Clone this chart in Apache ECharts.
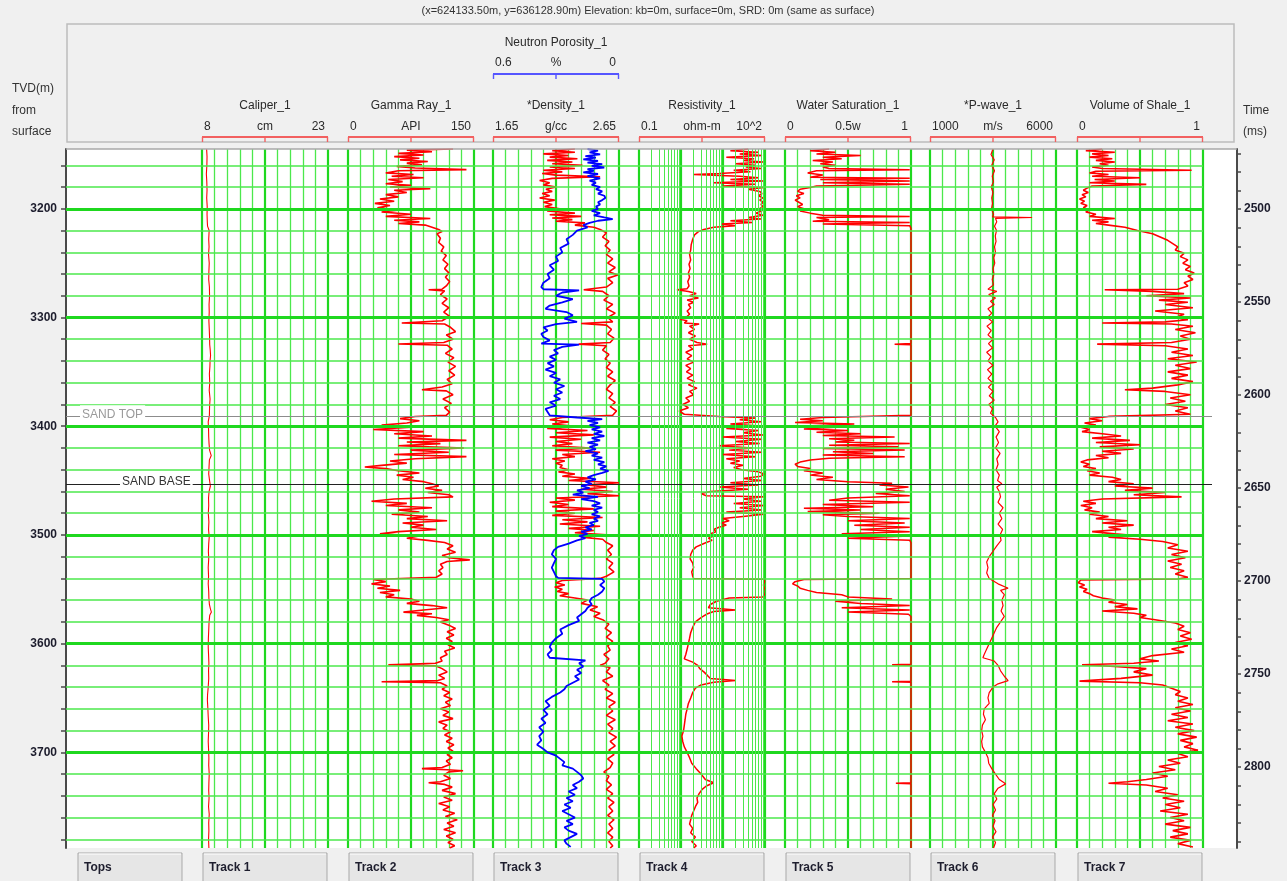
<!DOCTYPE html>
<html><head><meta charset="utf-8">
<script src="https://cdn.jsdelivr.net/npm/echarts@6/dist/echarts.min.js"></script>
<style>html,body{margin:0;padding:0;background:#f0f0f0;}#c{width:1287px;height:881px;}</style>
</head><body><div id="c"></div>
<script>
// ---------------- DATA ----------------
const titleText = '(x=624133.50m, y=636128.90m) Elevation: kb=0m, surface=0m, SRD: 0m (same as surface)';
const depthMin = 3145, depthMax = 3788;
const timeMin = 2467.7, timeMax = 2843.5;
const depthLabels = [3200, 3300, 3400, 3500, 3600, 3700];
const depthMinorLines = [3160, 3180, 3220, 3240, 3260, 3280, 3320, 3340, 3360, 3380, 3420, 3440, 3460, 3480, 3520, 3540, 3560, 3580, 3620, 3640, 3660, 3680, 3720, 3740, 3760, 3780];
const depthTicks = [3160, 3180, 3200, 3220, 3240, 3260, 3280, 3300, 3320, 3340, 3360, 3380, 3400, 3420, 3440, 3460, 3480, 3500, 3520, 3540, 3560, 3580, 3600, 3620, 3640, 3660, 3680, 3700, 3720, 3740, 3760, 3780];
const timeLabels = [2500, 2550, 2600, 2650, 2700, 2750, 2800];
const timeTicks = [2470, 2480, 2490, 2500, 2510, 2520, 2530, 2540, 2550, 2560, 2570, 2580, 2590, 2600, 2610, 2620, 2630, 2640, 2650, 2660, 2670, 2680, 2690, 2700, 2710, 2720, 2730, 2740, 2750, 2760, 2770, 2780, 2790, 2800, 2810, 2820, 2830, 2840];
const topsNames = ['SAND TOP', 'SAND BASE'];
const topsDepths = [3390.8, 3453];

const trackNames = ['Caliper_1', 'Gamma Ray_1', '*Density_1', 'Resistivity_1', 'Water Saturation_1', '*P-wave_1', 'Volume of Shale_1'];
const trackUnits = ['cm', 'API', 'g/cc', 'ohm-m', '0.5w', 'm/s', ''];
const trackMinLabels = ['8', '0', '1.65', '0.1', '0', '1000', '0'];
const trackMaxLabels = ['23', '150', '2.65', '10^2', '1', '6000', '1'];
const trackMin = [8, 0, 1.65, 0.1, 0, 1000, 0];
const trackMax = [23, 150, 2.65, 100, 1, 6000, 1];
const trackButtons = ['Track 1', 'Track 2', 'Track 3', 'Track 4', 'Track 5', 'Track 6', 'Track 7'];
const neutronName = 'Neutron Porosity_1', neutronUnit = '%', neutronMinLabel = '0.6', neutronMaxLabel = '0';
const neutronMin = 0, neutronMax = 0.6;
const resistivityMinorGrid = [0.2, 0.3, 0.4, 0.5, 0.6, 0.7, 0.8, 0.9, 2, 3, 4, 5, 6, 7, 8, 9, 20, 30, 40, 50, 60, 70, 80, 90];

// curves: [depth, value]
const caliper = [[3145,8.55],[3152,8.6],[3160,8.58],[3168,8.52],[3175,8.57],[3183,8.6],[3190,8.56],[3198,8.62],[3205,8.6],[3212,8.63],[3216,8.66],[3220,8.85],[3228,8.8],[3235,8.84],[3242,8.78],[3250,8.86],[3258,8.82],[3265,8.8],[3272,8.88],[3280,8.9],[3288,8.84],[3295,8.86],[3303,8.82],[3310,8.86],[3318,8.9],[3325,8.92],[3330,8.98],[3335,9.02],[3340,8.96],[3345,8.94],[3352,8.88],[3360,8.92],[3367,8.86],[3375,8.96],[3382,8.9],[3390,8.88],[3396,8.74],[3403,8.78],[3410,8.8],[3416,8.84],[3422,8.9],[3427,9.1],[3431,8.88],[3437,8.84],[3444,8.8],[3450,8.9],[3455,9.0],[3460,8.84],[3466,8.78],[3473,8.8],[3480,8.75],[3488,8.82],[3495,8.78],[3502,8.86],[3508,8.8],[3515,8.76],[3522,8.8],[3530,8.74],[3538,8.78],[3545,8.74],[3552,8.8],[3558,8.82],[3564,8.88],[3568,9.0],[3571,9.12],[3574,8.92],[3580,8.84],[3588,8.8],[3595,8.76],[3603,8.74],[3610,8.78],[3618,8.82],[3625,8.78],[3632,8.8],[3640,8.74],[3647,8.66],[3652,8.64],[3660,8.7],[3667,8.74],[3675,8.8],[3682,8.78],[3690,8.74],[3697,8.78],[3705,8.82],[3712,8.8],[3720,8.86],[3728,8.82],[3735,8.8],[3742,8.84],[3750,8.78],[3757,8.86],[3765,8.8],[3772,8.82],[3780,8.78],[3788,8.82]];

const gammaRay = [[3145,125],[3146,70],[3147.5,100],[3149,60],[3150.5,90],[3152,55],[3153.5,85],[3155,62],[3156.5,95],[3158,70],[3159.5,88],[3161,58],[3162.5,80],[3164,141],[3165,60],[3167,45],[3168.5,78],[3170,52],[3171.5,90],[3173,48],[3175,65],[3177,45],[3178.5,75],[3180,50],[3181.5,98],[3183,55],[3185,70],[3187,45],[3189,60],[3191,38],[3193,55],[3195,32],[3197,50],[3199,35],[3201,62],[3203,40],[3205,75],[3207,45],[3209,98],[3210.5,55],[3212,85],[3213.5,60],[3215,92],[3217,100],[3219,108],[3221,112],
[3223,106],[3227,110],[3231,108],[3235,114],[3239,111],[3243,117],[3247,113],[3251,119],[3255,115],[3259,120],[3263,116],[3267,121],[3271,117],[3274,112],[3274.5,96],[3275.5,115],[3279,110],[3283,118],[3287,112],[3291,120],[3295,114],[3299,121],[3303,112],[3305,64],[3306,115],[3309,122],[3313,128],[3316,117],[3320,125],[3323,114],[3324.4,60],[3325.5,118],[3329,124],[3333,116],[3337,126],[3341,119],[3345,128],[3349,120],[3353,127],[3357,118],[3361,124],[3364,112],[3366.5,88],[3367.5,117],[3371,125],[3375,113],[3379,123],[3383,115],[3387,121],[3390,117],
[3391,80],[3393,62],[3395,85],[3397,70],[3399,40],[3401,75],[3403,30],[3405,90],[3407,55],[3409,100],[3411,60],[3413,141],[3414.5,70],[3416,110],[3418,60],[3420,138],[3422,75],[3424,120],[3426,55],[3428,141],[3430,80],[3432,50],[3434,70],[3436,40],[3437.5,20],[3439,45],[3441,60],[3443,85],[3445,58],[3447,78],[3449,65],[3451,90],[3453,100],[3455,108],[3457,92],[3459,112],[3461,95],[3463,120],
[3465,125],[3467,55],[3469,28],[3471,70],[3473,45],[3475,100],[3477,60],[3479,85],[3481,52],[3483,95],[3485,70],[3487,118],[3489,65],[3491,90],[3493,75],[3495,105],[3497,60],[3499,38],[3501,85],[3503,70],[3505,95],[3507,115],
[3510,125],[3513,118],[3516,128],[3519,112],[3521,120],[3523,145],[3524.5,118],[3527,110],[3530,113],[3533,108],[3536,112],[3539,105],
[3541,30],[3543,45],[3545,28],[3547,50],[3549,35],[3551,62],[3553,38],[3555,55],[3557,45],[3559,75],
[3561,85],[3563,70],[3565,100],[3567,118],[3569,90],[3571,66],[3572.5,100],[3574,82],[3576,105],[3578,120],[3580,110],
[3583,120],[3586,128],[3589,118],[3592,126],[3595,117],[3598,124],[3601,119],[3604,127],[3607,115],[3610,118],[3613,110],[3616,112],[3618,104],[3619.5,48],[3620.5,105],[3623,112],[3626,118],[3629,108],[3632,115],[3634,107],[3635,40],[3636,110],[3639,118],[3642,112],[3645,121],[3648,114],[3651,124],[3654,116],[3657,122],[3660,110],[3663,120],[3666,113],[3669,125],[3672,108],[3675,118],[3678,113],[3681,122],[3684,115],[3687,124],[3690,117],[3693,126],[3696,119],[3699,125],[3702,118],[3705,124],[3708,117],[3711,122],[3714,112],[3715,88],[3716,118],[3717,137],[3718,120],[3721,114],[3724,122],[3727,110],[3728,96],[3729.5,115],[3732,124],[3735,112],[3738,128],[3741,114],[3744,124],[3747,108],[3750,121],[3753,113],[3756,127],[3759,116],[3762,130],[3765,118],[3768,126],[3771,114],[3774,128],[3777,117],[3780,125],[3783,119],[3786,127],[3788,121]];

const density = [[3145,2.3],[3146.5,2.12],[3148,2.3],[3149.5,2.05],[3151,2.25],[3152.5,2.1],[3154,2.32],[3155.5,2.08],[3157,2.28],[3158.5,2.12],[3160,2.36],[3161.5,2.1],[3163,2.3],[3164.5,2.05],[3166,2.2],[3167.5,2.04],[3169,2.15],[3170.5,2.5],[3172,2.12],[3174,2.02],[3176,2.1],[3178,2.05],[3180,2.15],[3182,2.07],[3184,2.12],[3186,2.04],[3188,2.1],[3190,2.02],[3192,2.14],[3194,2.05],[3196,2.12],[3198,2.06],[3200,2.18],[3202,2.08],[3204,2.3],[3205.5,2.1],[3207,2.35],[3208.5,2.12],[3210,2.28],[3211.5,2.15],[3213,2.38],[3215,2.3],[3217,2.45],[3219,2.5],
[3222,2.55],[3226,2.52],[3230,2.57],[3234,2.54],[3238,2.58],[3242,2.55],[3246,2.6],[3250,2.56],[3254,2.62],[3258,2.57],[3261,2.64],[3264,2.56],[3268,2.6],[3272,2.55],[3274.5,2.37],[3276,2.52],[3280,2.57],[3284,2.53],[3288,2.6],[3292,2.55],[3296,2.62],[3300,2.56],[3304,2.6],[3305.5,2.35],[3307,2.55],[3311,2.59],[3315,2.56],[3319,2.61],[3323,2.58],[3324.5,2.33],[3326,2.55],[3330,2.52],[3334,2.57],[3338,2.54],[3342,2.58],[3346,2.55],[3350,2.6],[3354,2.56],[3358,2.62],[3362,2.58],[3366,2.55],[3370,2.6],[3374,2.57],[3378,2.62],[3382,2.58],[3386,2.63],[3390,2.6],
[3392,2.2],[3394,2.1],[3396,2.25],[3398,2.12],[3400,2.3],[3402,2.08],[3404,2.4],[3406,2.15],[3408,2.45],[3410,2.1],[3412,2.35],[3414,2.15],[3416,2.28],[3418,2.12],[3420,2.42],[3422,2.15],[3424,2.5],[3426,2.2],[3428,2.3],[3430,2.12],[3432,2.22],[3434,2.15],[3436,2.2],[3438,2.18],[3440,2.25],[3442,2.17],[3444,2.3],[3446,2.2],[3448,2.42],[3450,2.25],[3452,2.65],[3454,2.4],[3456,2.55],[3458,2.35],[3460,2.6],[3462,2.4],[3464,2.65],[3466,2.15],[3468,2.3],[3470,2.1],[3472,2.25],[3474,2.12],[3476,2.45],[3478,2.15],[3480,2.3],[3482,2.12],[3484,2.52],[3486,2.2],[3488,2.4],[3490,2.18],[3492,2.5],[3494,2.25],[3496,2.45],[3498,2.3],[3500,2.55],[3502,2.35],[3504,2.52],
[3507,2.55],[3510,2.6],[3514,2.56],[3518,2.59],[3522,2.55],[3526,2.6],[3530,2.57],[3534,2.61],[3538,2.55],[3540,2.5],
[3542,2.2],[3544,2.15],[3546,2.22],[3548,2.14],[3550,2.2],[3552,2.16],[3554,2.25],[3556,2.18],[3558,2.3],
[3560,2.4],[3563,2.35],[3566,2.48],[3569,2.42],[3572,2.5],[3575,2.45],[3578,2.52],
[3582,2.57],[3586,2.54],[3590,2.59],[3594,2.55],[3598,2.6],[3602,2.56],[3606,2.58],[3610,2.53],[3614,2.57],[3618,2.54],[3620,2.5],[3622,2.58],[3626,2.55],[3630,2.6],[3634,2.52],[3638,2.57],[3642,2.54],[3646,2.6],[3650,2.55],[3654,2.62],[3658,2.57],[3662,2.6],[3666,2.55],[3670,2.62],[3674,2.56],[3678,2.6],[3682,2.57],[3686,2.63],[3690,2.58],[3694,2.62],[3698,2.57],[3702,2.61],[3706,2.56],[3710,2.6],[3714,2.58],[3718,2.53],[3722,2.57],[3726,2.55],[3730,2.59],[3734,2.55],[3738,2.6],[3742,2.56],[3746,2.61],[3750,2.57],[3754,2.6],[3758,2.56],[3762,2.61],[3766,2.57],[3770,2.6],[3774,2.56],[3778,2.6],[3782,2.57],[3786,2.6],[3788,2.58]];

const neutron = [[3145,0.15],[3146.5,0.1],[3148,0.14],[3150,0.09],[3151.5,0.16],[3153,0.11],[3154.5,0.17],[3156,0.1],[3157.5,0.15],[3159,0.08],[3160.5,0.13],[3162,0.07],[3163.5,0.15],[3165,0.12],[3166.5,0.17],[3168,0.1],[3170,0.15],[3172,0.09],[3174,0.14],[3176,0.11],[3178,0.13],[3180,0.09],[3182,0.11],[3184,0.08],[3186,0.1],[3188,0.07],[3190,0.065],[3192,0.08],[3194,0.1],[3196,0.09],[3198,0.11],[3200,0.1],[3202,0.13],[3204,0.09],[3206,0.12],[3208,0.07],[3209.5,0.03],[3211,0.1],[3213,0.14],[3215,0.17],
[3217,0.15],[3220,0.2],[3224,0.22],[3228,0.25],[3232,0.24],[3236,0.28],[3240,0.27],[3244,0.3],[3248,0.29],[3252,0.33],[3256,0.31],[3260,0.34],[3264,0.33],[3268,0.36],[3272,0.37],[3274,0.36],[3275,0.19],[3277,0.27],[3280,0.3],[3283,0.22],[3286,0.27],[3289,0.33],[3292,0.35],[3295,0.25],[3298,0.22],[3301,0.26],[3304,0.2],[3306,0.3],[3309,0.36],[3312,0.34],[3315,0.37],[3318,0.36],[3321,0.33],[3324,0.37],[3325,0.19],[3327,0.27],[3330,0.31],[3333,0.29],[3336,0.33],[3339,0.3],[3342,0.34],[3345,0.31],[3348,0.35],[3351,0.3],[3354,0.33],[3357,0.28],[3360,0.31],[3363,0.26],[3366,0.3],[3369,0.27],[3372,0.31],[3375,0.28],[3378,0.33],[3381,0.3],[3384,0.35],[3387,0.34],[3390,0.33],
[3392,0.2],[3393.5,0.08],[3395,0.15],[3397,0.1],[3399,0.14],[3401,0.09],[3403,0.13],[3405,0.08],[3407,0.12],[3409,0.07],[3411,0.13],[3413,0.09],[3415,0.15],[3417,0.1],[3419,0.14],[3421,0.11],[3423,0.16],[3425,0.1],[3427,0.13],[3429,0.08],[3431,0.12],[3433,0.07],[3435,0.1],[3437,0.06],[3439,0.09],[3441,0.05],[3443,0.08],[3445,0.12],[3447,0.15],[3449,0.11],[3451,0.16],[3453,0.13],[3455,0.18],[3457,0.14],[3459,0.2],[3461,0.17],[3463,0.22],[3465,0.1],[3467,0.18],[3469,0.12],[3471,0.09],[3473,0.13],[3475,0.08],[3477,0.12],[3479,0.1],[3481,0.13],[3483,0.09],[3485,0.12],[3487,0.1],[3489,0.14],[3491,0.12],[3493,0.16],[3495,0.13],[3497,0.18],[3499,0.15],[3501,0.19],[3503,0.16],[3505,0.2],
[3508,0.24],[3511,0.29],[3514,0.31],[3518,0.32],[3522,0.3],[3526,0.31],[3530,0.32],[3534,0.31],[3538,0.3],[3539.5,0.29],[3540.5,0.08],
[3543,0.07],[3546,0.09],[3549,0.07],[3552,0.08],[3555,0.1],[3558,0.13],[3561,0.14],[3564,0.13],[3567,0.15],[3570,0.16],[3573,0.18],[3576,0.2],[3579,0.19],
[3583,0.24],[3587,0.28],[3591,0.27],[3595,0.3],[3599,0.32],[3603,0.33],[3606,0.32],[3610,0.34],[3613,0.33],[3614.5,0.33],[3615.5,0.16],[3618,0.19],[3621,0.17],[3624,0.2],[3627,0.18],[3630,0.21],[3633,0.19],[3636,0.22],[3639,0.25],[3642,0.26],[3645,0.28],[3649,0.32],[3653,0.35],[3657,0.33],[3661,0.36],[3665,0.34],[3669,0.37],[3673,0.35],[3677,0.38],[3681,0.36],[3685,0.38],[3689,0.37],[3693,0.39],[3697,0.36],[3700,0.34],[3703,0.3],[3706,0.28],[3709,0.26],[3712,0.27],[3715,0.22],[3718,0.2],[3721,0.18],[3724,0.17],[3727,0.19],[3730,0.22],[3733,0.2],[3736,0.24],[3739,0.21],[3742,0.25],[3745,0.22],[3748,0.26],[3751,0.23],[3754,0.27],[3757,0.24],[3760,0.21],[3763,0.25],[3766,0.22],[3769,0.26],[3772,0.24],[3775,0.2],[3778,0.23],[3781,0.26],[3784,0.25],[3787,0.23]];

const resistivity = [[3145,40],[3146.5,15],[3148,70],[3149.5,25],[3151,85],[3152.5,12],[3154,55],[3155.5,30],[3157,90],[3158.5,20],[3160,60],[3161.5,35],[3163,80],[3164.5,18],[3166,45],[3167.5,8],[3168.5,2.0],[3170,25],[3171.5,70],[3173,15],[3174.5,90],[3176,6],[3177.5,60],[3179,10],[3180.5,95],[3182,40],[3184,75],[3186,85],[3188,70],[3190,88],[3192,75],[3194,92],[3196,80],[3198,90],[3200,72],[3202,85],[3204,60],[3206,90],[3208,40],[3209.5,80],[3211,15],[3212.5,50],[3214,9],[3215.5,20],[3217,6],[3219,3.5],[3221,2.6],[3224,2.1],[3228,1.9],[3233,1.75],[3238,1.7],[3242,1.6],
[3247,1.7],[3251,1.55],[3255,1.65],[3259,1.5],[3263,1.6],[3267,1.45],[3271,1.55],[3273.5,1.4],[3274.5,0.8],[3276,1.5],[3278,2.3],[3280,1.6],[3282,2.6],[3284,1.4],[3286,2.0],[3288,1.5],[3291,1.7],[3294,1.4],[3297,1.6],[3300,1.3],[3301.5,0.9],[3303,1.4],[3305,1.2],[3306,2.7],[3308,1.6],[3311,2.1],[3314,1.5],[3317,2.2],[3320,1.6],[3323,2.4],[3324.5,4.2],[3326,1.5],[3329,1.9],[3332,1.3],[3335,1.8],[3338,1.4],[3341,2.0],[3344,1.3],[3347,1.7],[3350,1.35],[3353,1.9],[3356,1.4],[3359,2.1],[3362,1.5],[3365,2.4],[3368,1.6],[3371,2.0],[3374,1.3],[3377,1.6],[3380,1.1],[3383,1.5],[3386,0.9],[3389,1.2],
[3391,8],[3392.5,60],[3394,25],[3396,80],[3398,15],[3400,95],[3402,12],[3404,70],[3406,30],[3408,90],[3410,10],[3412,85],[3414,20],[3416,75],[3418,8],[3420,50],[3422,14],[3424,85],[3426,10],[3428,60],[3430,12],[3432,25],[3434,15],[3436,30],[3438,18],[3440,28],[3442,70],[3444,95],[3446,80],[3448,30],[3450,85],[3452,15],[3454,70],[3456,8],[3458,40],[3460,5],[3462,3],[3464,4],
[3465,95],[3467,30],[3469,80],[3471,18],[3473,95],[3475,25],[3477,85],[3479,12],[3481,95],[3483,30],[3485,10],[3487,14],[3489,9],[3491,12],[3493,8],[3495,6],[3497,7],[3499,5],[3501,6],[3503,4.5],[3505,5.5],[3507,4],[3509,3],[3511,2.3],[3514,1.9],[3518,1.7],[3522,1.65],[3526,1.9],[3530,2.0],[3534,1.8],[3538,1.9],[3540,2.0],[3540.8,95],[3543,98],[3546,92],[3549,97],[3552,93],[3555,96],[3557,90],[3558,14],[3561,7],[3564,5],[3567,4.5],[3569,20],[3570.5,6],[3573,4],[3576,3],[3580,2.2],[3585,1.9],[3590,1.7],[3595,1.6],[3600,1.5],[3605,1.4],[3610,1.3],[3614,1.2],[3617,1.9],[3620,2.5],[3623,2.8],[3626,3.5],[3629,4.2],[3632,5],[3634,20],[3635.5,6],[3638,3],[3641,2.2],[3645,1.9],[3650,1.7],[3655,1.5],[3660,1.4],[3665,1.3],[3670,1.25],[3675,1.2],[3680,1.15],[3685,1.05],[3690,1.1],[3695,1.2],[3700,1.4],[3705,1.6],[3710,1.8],[3715,2.3],[3720,3.0],[3725,3.8],[3728,6],[3731,4],[3734,3.2],[3738,2.7],[3742,2.4],[3746,2.5],[3750,2.2],[3754,2.0],[3758,1.8],[3762,1.7],[3766,1.6],[3770,1.9],[3774,1.7],[3778,2.2],[3782,1.8],[3786,2.3],[3788,2.0]];

const waterSaturation = [[3145,0.35],[3146.5,0.2],[3148,0.4],[3149.5,0.25],[3151,0.6],[3152.5,0.3],[3154,0.45],[3155.5,0.22],[3157,0.38],[3158.5,0.28],[3160,0.4],[3161.5,0.3],[3163,0.35],[3164,0.99],[3165,0.25],[3167,0.18],[3169,0.3],[3171,0.2],[3172,0.99],[3173,0.28],[3174.5,0.99],[3176,0.3],[3177.5,0.99],[3179,0.25],[3180.5,0.2],[3182,0.12],[3184,0.1],[3186,0.15],[3188,0.09],[3190,0.12],[3192,0.08],[3194,0.11],[3196,0.14],[3198,0.1],[3200,0.15],[3202,0.12],[3204,0.2],[3206,0.3],[3207,0.99],[3208,0.25],[3210,0.35],[3211.5,0.22],[3212.5,0.99],[3214,0.3],[3215.5,0.99],[3218,1],[3324,1],[3324.5,0.87],[3325,1],[3390,1],
[3391,1],[3392,0.3],[3393.5,0.12],[3395,0.3],[3396.5,0.08],[3398,0.55],[3399.5,0.2],[3401,0.4],[3402.5,0.15],[3404,0.5],[3405.5,0.25],[3407,0.6],[3408.5,0.3],[3410,0.87],[3411.5,0.35],[3413,0.55],[3414.5,0.4],[3416,0.99],[3417.5,0.35],[3419,0.9],[3420.5,0.3],[3422,0.95],[3423.5,0.38],[3425,0.7],[3426.5,0.3],[3428,0.95],[3429.5,0.35],[3431,0.2],[3433,0.12],[3435,0.08],[3437,0.1],[3439,0.2],[3441,0.15],[3443,0.3],[3445,0.2],[3447,0.38],[3449,0.25],[3451,0.5],[3452.5,0.85],[3454,0.75],[3456,0.98],[3458,0.8],[3460,0.95],[3462,0.72],[3464,0.99],
[3466,0.5],[3468,0.35],[3470,0.99],[3472,0.3],[3474,0.7],[3475.5,0.15],[3477,0.6],[3478.5,0.18],[3480,0.75],[3481.5,0.3],[3483,0.5],[3485,0.99],[3487,0.5],[3489,0.95],[3491,0.55],[3493,0.99],[3495,0.6],[3497,0.99],[3499,0.45],[3501,0.99],[3503,0.5],[3505,0.99],[3507,1],[3540,1],[3541,0.15],[3543,0.08],[3545,0.06],[3547,0.1],[3549,0.12],[3551,0.18],[3553,0.25],[3555,0.45],[3557,0.5],[3559,0.85],[3561,0.4],[3563,0.6],[3565,0.99],[3567,0.45],[3569,0.99],[3571,0.5],[3573,0.98],[3575,1],[3619,1],[3619.5,0.85],[3620,1],[3634.5,1],[3635,0.85],[3635.5,1],[3728,1],[3728.5,0.88],[3729,1],[3788,1]];

const pWave = [[3145,3500],[3150,3420],[3155,3550],[3160,3450],[3165,3560],[3170,3470],[3175,3520],[3180,3430],[3185,3500],[3190,3450],[3195,3480],[3200,3440],[3205,3520],[3207.5,3480],[3208,5050],[3208.8,3600],[3212,3650],[3216,3560],[3220,3640],[3225,3590],[3230,3620],[3235,3560],[3240,3600],[3245,3530],[3250,3570],[3255,3500],[3260,3540],[3265,3470],[3270,3520],[3274,3300],[3276,3650],[3279,3330],[3282,3600],[3285,3400],[3288,3550],[3292,3300],[3296,3450],[3300,3280],[3304,3480],[3308,3260],[3312,3430],[3316,3300],[3320,3500],[3324,3320],[3328,3480],[3332,3250],[3336,3420],[3340,3300],[3344,3500],[3348,3280],[3352,3450],[3356,3300],[3360,3480],[3364,3320],[3368,3500],[3372,3350],[3376,3550],[3380,3330],[3384,3480],[3388,3400],[3392,3600],[3396,3700],[3400,3580],[3405,3750],[3410,3620],[3415,3720],[3420,3600],[3425,3780],[3430,3650],[3435,3700],[3440,3620],[3445,3750],[3450,3680],[3453,3850],[3456,3650],[3460,3750],[3465,3800],[3470,3700],[3475,3900],[3480,3750],[3485,3850],[3490,3700],[3495,3880],[3500,3780],[3505,3820],[3510,3650],[3515,3500],[3520,3350],[3525,3250],[3530,3300],[3535,3250],[3540,3350],[3545,3700],[3549,4100],[3551,3800],[3555,3950],[3560,3850],[3565,3900],[3570,3820],[3575,3950],[3580,3800],[3585,3650],[3590,3550],[3595,3450],[3600,3350],[3605,3250],[3610,3150],[3613,3100],[3616,3550],[3620,3700],[3625,3800],[3630,3950],[3634,4100],[3637,3700],[3640,3500],[3645,3350],[3650,3300],[3655,3350],[3660,3150],[3665,3120],[3670,3200],[3675,3080],[3680,3050],[3685,3100],[3690,3050],[3695,3080],[3700,3200],[3705,3300],[3710,3330],[3715,3450],[3720,3600],[3725,3750],[3729,4000],[3733,3700],[3738,3550],[3743,3650],[3748,3500],[3753,3600],[3758,3480],[3763,3580],[3768,3500],[3773,3620],[3778,3480],[3783,3600],[3788,3520]];

const vShale = [[3145,0.2],[3146.5,0.07],[3148,0.3],[3149.5,0.12],[3151,0.25],[3152.5,0.1],[3154,0.28],[3155.5,0.15],[3157,0.3],[3158.5,0.18],[3160,0.25],[3161.5,0.12],[3163,0.2],[3164.5,0.91],[3165.5,0.15],[3167,0.1],[3168.5,0.25],[3170,0.12],[3171.5,0.5],[3173,0.14],[3174.5,0.3],[3176,0.1],[3177.5,0.55],[3179,0.12],[3181,0.08],[3183,0.05],[3185,0.09],[3187,0.04],[3189,0.07],[3191,0.02],[3193,0.06],[3195,0.03],[3197,0.08],[3199,0.05],[3201,0.1],[3203,0.07],[3205,0.15],[3207,0.1],[3209,0.3],[3210.5,0.12],[3212,0.25],[3213.5,0.15],[3215,0.25],[3217,0.38],[3220,0.48],[3223,0.6],[3226,0.66],[3229,0.72],[3232,0.76],[3235,0.8],[3238,0.78],[3241,0.85],[3244,0.82],[3247,0.88],[3250,0.84],[3253,0.9],[3256,0.86],[3259,0.93],[3262,0.88],[3265,0.92],[3268,0.85],[3271,0.88],[3274,0.8],[3274.5,0.22],[3276,0.6],[3278,0.85],[3280,0.55],[3282,0.9],[3284,0.65],[3286,0.88],[3288,0.7],[3291,0.92],[3294,0.62],[3297,0.85],[3300,0.78],[3302,0.88],[3304,0.7],[3305,0.2],[3306,0.75],[3308,0.92],[3311,0.78],[3314,0.94],[3317,0.82],[3320,0.9],[3323,0.75],[3324.5,0.16],[3326,0.7],[3329,0.88],[3332,0.75],[3335,0.92],[3338,0.72],[3341,0.95],[3344,0.78],[3347,0.9],[3350,0.72],[3353,0.88],[3356,0.75],[3359,0.92],[3362,0.8],[3365,0.6],[3366.5,0.38],[3368,0.7],[3371,0.9],[3374,0.74],[3377,0.86],[3380,0.7],[3383,0.88],[3386,0.78],[3389,0.9],
[3391,0.25],[3393,0.1],[3395,0.2],[3397,0.06],[3399,0.15],[3401,0.03],[3403,0.1],[3405,0.04],[3407,0.2],[3409,0.35],[3411,0.12],[3413,0.42],[3415,0.15],[3417,0.5],[3419,0.18],[3421,0.45],[3423,0.2],[3425,0.35],[3427,0.15],[3429,0.25],[3431,0.08],[3433,0.03],[3435,0.1],[3437,0.05],[3439,0.15],[3441,0.08],[3443,0.18],[3445,0.1],[3447,0.28],[3449,0.35],[3451,0.25],[3453,0.45],[3455,0.3],[3457,0.6],[3459,0.38],[3461,0.7],[3463,0.45],[3465,0.83],[3467,0.2],[3469,0.05],[3471,0.15],[3473,0.03],[3475,0.12],[3477,0.06],[3479,0.18],[3481,0.1],[3483,0.25],[3485,0.15],[3487,0.4],[3489,0.2],[3491,0.45],[3493,0.25],[3495,0.35],[3497,0.12],[3499,0.3],[3500.5,0.46],[3502,0.25],[3504,0.5],[3506,0.68],[3509,0.8],[3512,0.72],[3515,0.88],[3518,0.75],[3521,0.86],[3524,0.72],[3527,0.83],[3530,0.74],[3533,0.85],[3536,0.78],[3539,0.88],[3540.5,0.8],[3541.5,0.03],[3544,0.01],[3546,0.06],[3548,0.02],[3550,0.08],[3552,0.05],[3554,0.1],[3556,0.13],[3558,0.2],[3560,0.3],[3562,0.25],[3564,0.4],[3566,0.3],[3568,0.48],[3570,0.2],[3572,0.45],[3574,0.55],[3576,0.5],[3578,0.62],[3581,0.78],[3584,0.85],[3587,0.8],[3590,0.9],[3593,0.82],[3596,0.91],[3599,0.78],[3602,0.88],[3605,0.75],[3608,0.85],[3611,0.6],[3614,0.5],[3616,0.65],[3618,0.45],[3619.5,0.04],[3621,0.3],[3623,0.55],[3626,0.45],[3629,0.6],[3632,0.35],[3634.5,0.02],[3636,0.5],[3638,0.68],[3641,0.75],[3644,0.82],[3647,0.78],[3650,0.88],[3653,0.8],[3656,0.92],[3659,0.78],[3662,0.9],[3665,0.75],[3668,0.88],[3671,0.72],[3674,0.92],[3677,0.78],[3680,0.93],[3683,0.8],[3686,0.95],[3689,0.82],[3692,0.92],[3695,0.85],[3698,0.96],[3701,0.8],[3704,0.88],[3707,0.72],[3710,0.82],[3713,0.65],[3716,0.78],[3719,0.6],[3722,0.72],[3725,0.55],[3727,0.4],[3728.5,0.25],[3730,0.55],[3733,0.72],[3736,0.62],[3739,0.8],[3742,0.68],[3745,0.85],[3748,0.7],[3751,0.82],[3754,0.66],[3757,0.88],[3760,0.74],[3763,0.85],[3766,0.7],[3769,0.9],[3772,0.76],[3775,0.88],[3778,0.74],[3781,0.9],[3784,0.8],[3787,0.92]];

const trackCurves = [caliper, gammaRay, density, resistivity, waterSaturation, pWave, vShale];

// ---------------- LAYOUT / STYLE ----------------
const FONT = '"Liberation Sans Narrow","Liberation Sans",Arial,sans-serif';
const PLOT_TOP = 149, PLOT_H = 699;
const trackLeft = [202, 348, 493, 639, 785, 930, 1077];
const TW = 126;
const RED = '#ff0000', BLUE = '#0000ff';
const GMAJ = {color: '#1fd81f', width: 2.2};
const GMIN = {color: '#4ce84c', width: 1.3};
const curveWidths = [1.1, 1.6, 1.6, 1.5, 1.5, 1.2, 1.6];
const topsColors = ['#8c8c8c', '#222222'];
const topsTextColors = ['#9a9a9a', '#333333'];
const topsLabelOffset = [14, 54];
const plainNum = v => String(Math.round(v));

const chart = echarts.init(document.getElementById('c'), null, {renderer: 'canvas'});

const grids = [], xAxes = [], yAxes = [], series = [];
function addGrid(left, width) {
  grids.push({left: left, top: PLOT_TOP, width: width, height: PLOT_H, containLabel: false, outerBoundsMode: 'none'});
  return grids.length - 1;
}
function hiddenDepthY(gi) {
  yAxes.push({gridIndex: gi, type: 'value', min: depthMin, max: depthMax, inverse: true, show: false,
    axisLine: {show: false}, axisTick: {show: false}, axisLabel: {show: false}, splitLine: {show: false}});
  return yAxes.length - 1;
}
function hiddenX(gi, extra) {
  xAxes.push(Object.assign({gridIndex: gi, type: 'value', min: 0, max: 1, axisLine: {show: false}, axisTick: {show: false}, axisLabel: {show: false}, splitLine: {show: false}}, extra || {}));
  return xAxes.length - 1;
}

// frame grid (white background + depth & time axes)
const g0 = addGrid(66, 1171);
grids[g0].show = true; grids[g0].backgroundColor = '#ffffff'; grids[g0].borderWidth = 0;
hiddenX(g0);
yAxes.push({gridIndex: g0, type: 'value', position: 'left', min: depthMin, max: depthMax, inverse: true,
  axisLine: {show: true, lineStyle: {color: '#4a4a4a', width: 2}},
  axisTick: {show: true, customValues: depthTicks, length: 5, lineStyle: {color: '#4a4a4a', width: 1.5}},
  axisLabel: {show: true, customValues: depthLabels, formatter: plainNum, margin: 9, color: '#1c1c2c', fontSize: 12, fontWeight: 'bold', fontFamily: FONT},
  splitLine: {show: false}});
yAxes.push({gridIndex: g0, type: 'value', position: 'right', min: timeMin, max: timeMax, inverse: true,
  axisLine: {show: true, lineStyle: {color: '#4a4a4a', width: 2}},
  axisTick: {show: true, customValues: timeTicks, length: 4, lineStyle: {color: '#4a4a4a', width: 1.5}},
  axisLabel: {show: true, customValues: timeLabels, formatter: plainNum, margin: 7, color: '#1c1c2c', fontSize: 12, fontWeight: 'bold', fontFamily: FONT},
  splitLine: {show: false}});

// horizontal grid lines grid
const g1 = addGrid(66, 1137);
const x1 = hiddenX(g1), y1 = hiddenDepthY(g1);
series.push({type: 'line', xAxisIndex: x1, yAxisIndex: y1, data: [], silent: true, z: 1,
  markLine: {symbol: 'none', silent: true, animation: false, label: {show: false},
    data: depthMinorLines.map(d => ({yAxis: d, lineStyle: {color: GMIN.color, width: GMIN.width + 0.3, type: 'solid'}}))
      .concat(depthLabels.map(d => ({yAxis: d, lineStyle: {color: GMAJ.color, width: GMAJ.width + 0.6, type: 'solid'}})))}});

// tracks
for (let i = 0; i < 7; i++) {
  const gi = addGrid(trackLeft[i], TW);
  const yi = hiddenDepthY(gi);
  const isLog = (i === 3);
  if (isLog) {
    xAxes.push({gridIndex: gi, type: 'log', logBase: 10, min: trackMin[i], max: trackMax[i], axisLine: {show: false}, axisTick: {show: false}, axisLabel: {show: false},
      splitLine: {show: true, lineStyle: {color: GMAJ.color, width: GMAJ.width}}});
  } else {
    xAxes.push({gridIndex: gi, type: 'value', min: 0, max: 10, interval: 5, axisLine: {show: false}, axisTick: {show: false}, axisLabel: {show: false},
      splitLine: {show: true, lineStyle: {color: GMAJ.color, width: GMAJ.width}},
      minorTick: {show: false, splitNumber: 5}, minorSplitLine: {show: true, lineStyle: {color: GMIN.color, width: GMIN.width}}});
  }
  const xg = xAxes.length - 1;
  if (isLog) {
    series.push({type: 'line', xAxisIndex: xg, yAxisIndex: yi, data: [], silent: true, z: 1,
      markLine: {symbol: 'none', silent: true, animation: false, label: {show: false},
        data: resistivityMinorGrid.map(v => ({xAxis: v, lineStyle: {color: GMIN.color, width: 1, type: 'solid'}}))}});
  }
  xAxes.push({gridIndex: gi, type: isLog ? 'log' : 'value', logBase: 10, min: trackMin[i], max: trackMax[i], show: false,
    axisLine: {show: false}, axisTick: {show: false}, axisLabel: {show: false}, splitLine: {show: false}});
  const xc = xAxes.length - 1;
  series.push({type: 'line', name: trackNames[i], xAxisIndex: xc, yAxisIndex: yi,
    data: trackCurves[i].map(p => [p[1], p[0]]), showSymbol: false, symbol: 'none', clip: true, z: 4,
    lineStyle: {color: RED, width: curveWidths[i]}, animation: false, silent: true});
  if (i === 2) {
    xAxes.push({gridIndex: gi, type: 'value', min: neutronMin, max: neutronMax, inverse: true, show: false,
      axisLine: {show: false}, axisTick: {show: false}, axisLabel: {show: false}, splitLine: {show: false}});
    series.push({type: 'line', name: neutronName, xAxisIndex: xAxes.length - 1, yAxisIndex: yi,
      data: neutron.map(p => [p[1], p[0]]), showSymbol: false, symbol: 'none', clip: true, z: 5,
      lineStyle: {color: BLUE, width: 1.8}, animation: false, silent: true});
  }
}

// tops grid
const g2 = addGrid(66, 1146);
const x2 = hiddenX(g2), y2 = hiddenDepthY(g2);
series.push({type: 'line', xAxisIndex: x2, yAxisIndex: y2, data: [], silent: true, z: 8,
  markLine: {symbol: 'none', silent: true, animation: false,
    data: topsDepths.map((d, i) => ({yAxis: d, name: topsNames[i],
      lineStyle: {color: topsColors[i], width: 1.2, type: 'solid'},
      label: {show: true, formatter: '{b}', position: 'insideStartTop', distance: [topsLabelOffset[i], 2], verticalAlign: 'middle',
        color: topsTextColors[i], backgroundColor: '#ffffff', padding: [3, 2], fontSize: 12, fontFamily: FONT}}))}});

// ---------------- GRAPHICS (header / footer) ----------------
const gr = [];
function T(x, y, s, align, opt) {
  gr.push({type: 'text', x: x, y: y, silent: true, z: 10,
    style: Object.assign({text: s, font: '12px ' + FONT, fill: '#2a2a2a', align: align || 'left', verticalAlign: 'middle', textAlign: align || 'left', textVerticalAlign: 'middle'}, opt || {})});
}
function L(x1, y1, x2, y2, color, w) {
  gr.push({type: 'line', silent: true, z: 10, shape: {x1: x1, y1: y1, x2: x2, y2: y2}, style: {stroke: color, lineWidth: w || 1}});
}
function R(x, y, w, h, fill, stroke, lw) {
  gr.push({type: 'rect', silent: true, z: 9, shape: {x: x, y: y, width: w, height: h}, style: {fill: fill, stroke: stroke, lineWidth: lw || 1}});
}
T(648, 11, titleText, 'center', {font: '11px ' + FONT, fill: '#333'});
R(67, 24, 1167, 118, '#f0f0f0', '#bcbcbc', 1.5);
L(66, 149, 1237, 149, '#a8a8a8', 1.5);
T(12, 89, 'TVD(m)', 'left', {fill: '#333'});
T(12, 111, 'from', 'left', {fill: '#333'});
T(12, 132, 'surface', 'left', {fill: '#333'});
T(1243, 111, 'Time', 'left', {fill: '#333'});
T(1243, 132, '(ms)', 'left', {fill: '#333'});
function bracket(x0, y, color) {
  L(x0, y, x0 + TW, y, color, 1.8);
  L(x0 + 0.5, y, x0 + 0.5, y + 5, color, 1.4);
  L(x0 + TW / 2, y, x0 + TW / 2, y + 5, color, 1.4);
  L(x0 + TW - 0.5, y, x0 + TW - 0.5, y + 5, color, 1.4);
}
for (let i = 0; i < 7; i++) {
  const x0 = trackLeft[i];
  T(x0 + TW / 2, 106, trackNames[i], 'center');
  T(x0 + 2, 127, trackMinLabels[i], 'left');
  if (trackUnits[i]) T(x0 + TW / 2, 127, trackUnits[i], 'center');
  T(x0 + TW - 3, 127, trackMaxLabels[i], 'right');
  bracket(x0, 137, '#f26060');
}
T(trackLeft[2] + TW / 2, 43, neutronName, 'center');
T(trackLeft[2] + 2, 63, neutronMinLabel, 'left');
T(trackLeft[2] + TW / 2, 63, neutronUnit, 'center');
T(trackLeft[2] + TW - 3, 63, neutronMaxLabel, 'right');
bracket(trackLeft[2], 74, '#5555ff');
// footer buttons
function button(x, w, label) {
  R(x, 853, w, 32, '#e6e6e6', '#a9a9a9', 1);
  L(x + 1, 854, x + w - 1, 854, '#ffffff', 1);
  T(x + 6, 868, label, 'left', {fill: '#1e1e2e', font: 'bold 12px ' + FONT});
}
button(78, 104, 'Tops');
for (let i = 0; i < 7; i++) button(trackLeft[i] + 1, TW - 2, trackButtons[i]);

chart.setOption({
  backgroundColor: '#f0f0f0',
  animation: false,
  grid: grids, xAxis: xAxes, yAxis: yAxes, series: series,
  graphic: {elements: gr}
});
</script></body></html>
